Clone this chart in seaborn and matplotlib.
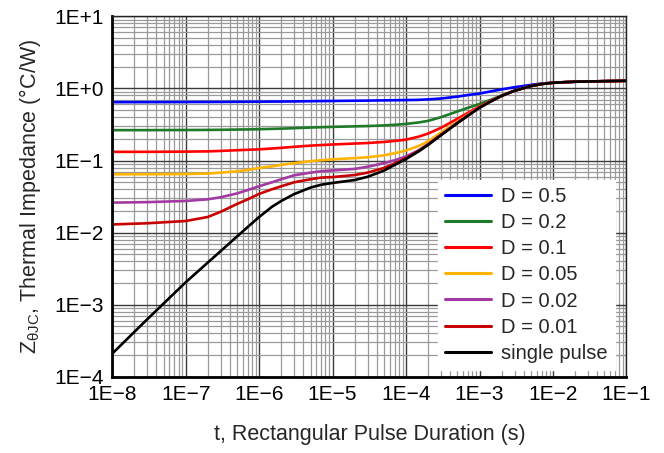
import numpy as np
import pandas as pd
import seaborn as sns
import matplotlib.pyplot as plt
from matplotlib.ticker import LogLocator, FuncFormatter, NullFormatter

# pulse duration (s)
t = [1e-8, 3e-8, 1e-7, 2e-7, 3e-7, 5e-7, 7e-7,
     1e-6, 1.5e-6, 2e-6, 3e-6, 5e-6, 7e-6,
     1e-5, 2e-5, 3e-5, 5e-5, 7e-5,
     1e-4, 1.5e-4, 2e-4, 3e-4, 5e-4, 7e-4,
     1e-3, 1.5e-3, 2e-3, 3e-3, 5e-3, 7e-3,
     1e-2, 2e-2, 5e-2, 1e-1]

# thermal impedance (C/W) per duty cycle
z_d05 = [0.645, 0.646, 0.648, 0.649, 0.650, 0.652, 0.654,
         0.655, 0.657, 0.658, 0.660, 0.665, 0.668,
         0.670, 0.675, 0.678, 0.683, 0.686,
         0.690, 0.695, 0.705, 0.725, 0.770, 0.810,
         0.850, 0.920, 0.970, 1.04, 1.12, 1.17,
         1.20, 1.235, 1.26, 1.30]
z_d02 = [0.264, 0.264, 0.265, 0.266, 0.267, 0.269, 0.270,
         0.272, 0.275, 0.277, 0.281, 0.287, 0.290,
         0.293, 0.298, 0.301, 0.307, 0.313,
         0.322, 0.338, 0.355, 0.400, 0.480, 0.540,
         0.610, 0.710, 0.800, 0.930, 1.08, 1.15,
         1.20, 1.24, 1.26, 1.275]
z_d01 = [0.132, 0.132, 0.133, 0.134, 0.136, 0.139, 0.141,
         0.143, 0.147, 0.150, 0.155, 0.161, 0.164,
         0.167, 0.172, 0.175, 0.181, 0.187,
         0.195, 0.215, 0.237, 0.285, 0.380, 0.460,
         0.565, 0.690, 0.790, 0.930, 1.08, 1.15,
         1.20, 1.24, 1.26, 1.275]
z_d005 = [0.0645, 0.0645, 0.065, 0.066, 0.068, 0.071, 0.074,
          0.079, 0.083, 0.087, 0.092, 0.098, 0.101,
          0.104, 0.108, 0.111, 0.118, 0.126,
          0.138, 0.160, 0.185, 0.245, 0.345, 0.435,
          0.550, 0.680, 0.790, 0.930, 1.08, 1.15,
          1.20, 1.24, 1.26, 1.275]
z_d002 = [0.0261, 0.0265, 0.0275, 0.029, 0.031, 0.035, 0.039,
          0.044, 0.050, 0.055, 0.0625, 0.068, 0.071,
          0.073, 0.0766, 0.082, 0.092, 0.101,
          0.114, 0.140, 0.170, 0.230, 0.335, 0.425,
          0.547, 0.680, 0.790, 0.930, 1.08, 1.15,
          1.20, 1.24, 1.26, 1.275]
z_d001 = [0.0130, 0.0135, 0.0145, 0.0165, 0.0195, 0.025, 0.029,
          0.0345, 0.040, 0.044, 0.050, 0.055, 0.058,
          0.059, 0.063, 0.068, 0.079, 0.091,
          0.108, 0.137, 0.167, 0.228, 0.333, 0.423,
          0.545, 0.680, 0.790, 0.930, 1.08, 1.15,
          1.20, 1.24, 1.26, 1.275]
z_single = [2.1e-4, 6.3e-4, 2.05e-3, 3.85e-3, 5.56e-3, 8.85e-3, 0.012,
            0.0165, 0.0229, 0.0275, 0.0343, 0.0422, 0.0462,
            0.0489, 0.0537, 0.0596, 0.0724, 0.087,
            0.105, 0.135, 0.165, 0.225, 0.330, 0.420,
            0.540, 0.680, 0.790, 0.930, 1.08, 1.15,
            1.20, 1.24, 1.26, 1.275]

labels = ["D = 0.5", "D = 0.2", "D = 0.1", "D = 0.05", "D = 0.02", "D = 0.01", "single pulse"]
colors = ["#0000ff", "#1e7a28", "#ff0000", "#ffb400", "#a33aa3", "#c80000", "#000000"]
series = [z_d05, z_d02, z_d01, z_d005, z_d002, z_d001, z_single]

df = pd.concat([pd.DataFrame({"t": t, "z": s, "curve": lab}) for lab, s in zip(labels, series)])

sns.set_style("white")
plt.rcParams['font.family'] = ['Liberation Sans', 'DejaVu Sans']
plt.rcParams['mathtext.fontset'] = 'custom'
plt.rcParams['mathtext.rm'] = 'Liberation Sans'
plt.rcParams['mathtext.it'] = 'Liberation Sans'

fig = plt.figure(figsize=(6.64, 4.53), dpi=100)
ax = fig.add_axes([0.169, 0.168, 0.7745, 0.796])

sns.lineplot(data=df, x="t", y="z", hue="curve", hue_order=labels,
             palette=colors, linewidth=1.9, ax=ax)

ax.set_xscale("log")
ax.set_yscale("log")
ax.set_xlim(1e-8, 1e-1)
ax.set_ylim(1e-4, 1e1)

ax.xaxis.set_major_locator(LogLocator(base=10, numticks=20))
ax.yaxis.set_major_locator(LogLocator(base=10, numticks=20))
ax.xaxis.set_minor_locator(LogLocator(base=10, subs=np.arange(2, 10), numticks=100))
ax.yaxis.set_minor_locator(LogLocator(base=10, subs=np.arange(2, 10), numticks=100))
ax.xaxis.set_minor_formatter(NullFormatter())
ax.yaxis.set_minor_formatter(NullFormatter())


def fmt(v, pos):
    e = int(round(np.log10(v)))
    if e < 0:
        return "1E\u2212%d" % (-e)
    return "1E+%d" % e


ax.xaxis.set_major_formatter(FuncFormatter(fmt))
ax.yaxis.set_major_formatter(FuncFormatter(fmt))

ax.grid(which="major", color="#3a3a3a", linewidth=1.0)
ax.grid(which="minor", color="#9a9a9a", linewidth=0.9)
ax.tick_params(which="both", length=0, labelsize=15, pad=6, colors="black")

for side in ["left", "bottom"]:
    ax.spines[side].set_linewidth(2.0)
    ax.spines[side].set_color("black")
for side in ["top", "right"]:
    ax.spines[side].set_linewidth(1.0)
    ax.spines[side].set_color("#222222")

ax.set_xlabel("t, Rectangular Pulse Duration (s)", fontsize=15.5, labelpad=14)
ax.set_ylabel(r"Z$_{\mathrm{\theta JC}}$, Thermal Impedance (°C/W)", fontsize=15.5, labelpad=8)

leg = ax.legend(loc="lower right", bbox_to_anchor=(0.978, 0.02), borderaxespad=0,
                fontsize=14.5, frameon=True, fancybox=False, framealpha=1,
                handlelength=2.3, labelspacing=0.35, handletextpad=0.5,
                borderpad=0.35)
leg.get_frame().set_edgecolor("white")
leg.get_frame().set_facecolor("white")
for h in leg.get_lines():
    h.set_linewidth(2.2)

fig.savefig("out.png", dpi=100)
